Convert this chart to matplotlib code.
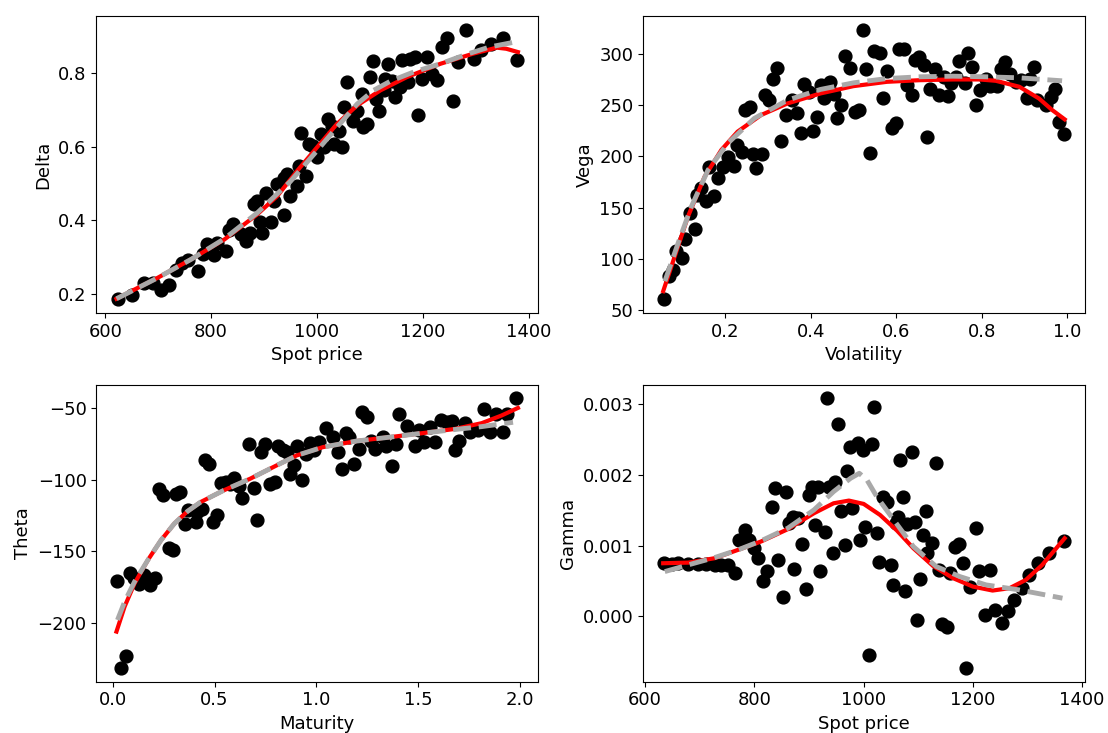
import matplotlib
matplotlib.use('Agg')
import matplotlib.pyplot as plt
import numpy as np

# Delta vs spot
delta_spot = [623, 650, 673, 690, 705, 721, 734, 744, 757, 776, 784, 793, 805, 811, 828, 834, 842, 856, 866, 874,
              881, 886, 893, 897, 903, 913, 919, 924, 937, 938, 944, 950, 963, 966, 969, 979, 985, 993, 1000, 1007,
              1013, 1021, 1029, 1032, 1041, 1048, 1052, 1057, 1068, 1076, 1085, 1088, 1095, 1100, 1106, 1112, 1117,
              1126, 1129, 1135, 1142, 1148, 1157, 1161, 1173, 1176, 1186, 1192, 1198, 1208, 1217, 1227, 1236, 1245,
              1257, 1267, 1282, 1296, 1311, 1330, 1352, 1379]
delta_val = [0.185, 0.196, 0.230, 0.230, 0.212, 0.225, 0.264, 0.285, 0.291, 0.262, 0.309, 0.336, 0.305, 0.339,
             0.316, 0.375, 0.389, 0.364, 0.345, 0.366, 0.445, 0.453, 0.396, 0.366, 0.475, 0.396, 0.453, 0.500,
             0.415, 0.516, 0.525, 0.466, 0.494, 0.548, 0.636, 0.521, 0.607, 0.603, 0.571, 0.635, 0.598, 0.675,
             0.657, 0.607, 0.644, 0.598, 0.707, 0.775, 0.671, 0.698, 0.744, 0.653, 0.662, 0.789, 0.833, 0.730,
             0.696, 0.753, 0.785, 0.825, 0.778, 0.736, 0.762, 0.835, 0.775, 0.839, 0.844, 0.685, 0.785, 0.844,
             0.798, 0.780, 0.871, 0.894, 0.725, 0.830, 0.918, 0.839, 0.864, 0.880, 0.896, 0.835]
delta_fit_x = [621, 655, 699, 762, 825, 887, 925, 963, 1000, 1038, 1076, 1120, 1170, 1233, 1296, 1340, 1358, 1380]
delta_fit_y = [0.187, 0.212, 0.244, 0.294, 0.348, 0.416, 0.466, 0.535, 0.598, 0.662, 0.712, 0.753, 0.789, 0.825,
               0.853, 0.869, 0.866, 0.857]
delta_nn_x = [621, 699, 762, 825, 887, 950, 1000, 1038, 1076, 1107, 1139, 1183, 1233, 1283, 1327, 1377]
delta_nn_y = [0.187, 0.244, 0.294, 0.350, 0.420, 0.506, 0.589, 0.653, 0.716, 0.753, 0.778, 0.803, 0.825, 0.851,
              0.871, 0.885]

# Vega vs volatility
vega_vol = [0.058, 0.068, 0.078, 0.086, 0.098, 0.106, 0.117, 0.129, 0.135, 0.144, 0.156, 0.161, 0.174, 0.183,
            0.195, 0.206, 0.220, 0.228, 0.239, 0.246, 0.257, 0.264, 0.272, 0.285, 0.293, 0.303, 0.311, 0.321,
            0.330, 0.342, 0.357, 0.369, 0.377, 0.384, 0.396, 0.406, 0.415, 0.423, 0.432, 0.445, 0.454, 0.462,
            0.471, 0.481, 0.493, 0.504, 0.514, 0.522, 0.530, 0.539, 0.548, 0.561, 0.570, 0.578, 0.589, 0.600,
            0.607, 0.618, 0.626, 0.636, 0.644, 0.654, 0.665, 0.671, 0.680, 0.690, 0.700, 0.711, 0.721, 0.729,
            0.740, 0.748, 0.760, 0.768, 0.778, 0.787, 0.797, 0.809, 0.819, 0.835, 0.845, 0.855, 0.866, 0.880,
            0.891, 0.905, 0.912, 0.922, 0.930, 0.951, 0.961, 0.971, 0.980, 0.992]
vega_val = [60.7, 83.3, 89.8, 107.6, 101.1, 119.5, 144.8, 129.2, 162.5, 169.0, 156.1, 189.4, 161.6, 178.7, 190.0,
            199.7, 190.7, 211.1, 204.6, 245.0, 247.6, 202.3, 188.4, 202.3, 259.6, 254.7, 275.7, 286.4, 215.3,
            240.2, 254.7, 241.8, 222.4, 270.2, 262.8, 225.0, 237.9, 269.3, 256.3, 272.5, 260.5, 236.9, 249.9,
            297.4, 286.4, 243.4, 245.0, 323.3, 284.5, 203.0, 302.6, 300.6, 256.3, 283.2, 227.2, 232.1, 304.9,
            304.9, 269.3, 259.6, 294.2, 296.8, 288.7, 219.1, 265.4, 285.4, 259.6, 277.4, 258.6, 271.5, 277.4,
            292.9, 271.5, 300.6, 287.1, 249.9, 264.4, 274.8, 268.3, 268.3, 285.4, 291.9, 280.6, 272.5, 274.1,
            256.3, 275.7, 287.1, 254.7, 249.9, 258.0, 265.1, 233.7, 221.7]
vega_fit_x = [0.055, 0.082, 0.113, 0.152, 0.191, 0.229, 0.284, 0.346, 0.423, 0.500, 0.578, 0.655, 0.733, 0.795,
              0.833, 0.888, 0.934, 0.965, 0.994]
vega_fit_y = [68.8, 102.7, 141.5, 180.3, 206.2, 224.0, 240.2, 251.5, 261.2, 268.3, 272.5, 274.1, 274.8, 274.8,
              273.5, 267.7, 256.3, 245.0, 236.0]
vega_nn_x = [0.059, 0.090, 0.121, 0.160, 0.206, 0.268, 0.346, 0.423, 0.500, 0.578, 0.655, 0.733, 0.810, 0.888,
             0.988]
vega_nn_y = [78.5, 115.7, 151.2, 186.8, 212.7, 236.9, 254.7, 265.1, 271.5, 275.7, 277.4, 278.0, 277.4, 276.4,
             273.5]

# Theta vs maturity
theta_mat = [0.023, 0.042, 0.067, 0.083, 0.104, 0.131, 0.153, 0.164, 0.185, 0.208, 0.229, 0.245, 0.278, 0.294,
             0.310, 0.331, 0.354, 0.367, 0.407, 0.416, 0.440, 0.451, 0.472, 0.494, 0.513, 0.532, 0.554, 0.578,
             0.594, 0.619, 0.635, 0.667, 0.692, 0.708, 0.727, 0.748, 0.773, 0.797, 0.813, 0.838, 0.857, 0.870,
             0.890, 0.906, 0.927, 0.948, 0.968, 0.987, 1.013, 1.049, 1.081, 1.106, 1.127, 1.143, 1.162, 1.187,
             1.208, 1.224, 1.247, 1.268, 1.289, 1.325, 1.344, 1.370, 1.390, 1.406, 1.446, 1.484, 1.503, 1.528,
             1.560, 1.584, 1.614, 1.641, 1.666, 1.679, 1.701, 1.731, 1.755, 1.795, 1.825, 1.852, 1.880, 1.917,
             1.938, 1.979]
theta_val = [-170.8, -231.3, -223.1, -164.8, -168.8, -172.7, -166.4, -169.9, -173.4, -168.3, -106.3, -110.9,
             -147.9, -149.1, -109.7, -108.6, -131.0, -121.3, -129.4, -122.5, -120.1, -86.1, -89.4, -129.4,
             -124.8, -102.3, -101.6, -103.2, -98.6, -104.6, -112.5, -75.0, -105.6, -127.8, -80.8, -75.0, -102.8,
             -101.6, -76.2, -79.6, -80.8, -95.8, -90.0, -76.2, -100.0, -82.4, -74.5, -79.6, -73.8, -63.9, -69.9,
             -80.8, -92.4, -67.6, -69.9, -89.4, -78.5, -53.0, -56.5, -72.7, -78.5, -69.9, -76.2, -90.7, -75.0,
             -54.2, -62.3, -76.2, -65.7, -73.8, -63.4, -73.8, -58.3, -60.0, -58.8, -79.6, -72.7, -60.6, -66.9,
             -65.7, -50.7, -66.9, -54.2, -66.9, -54.2, -43.3]
theta_fit_x = [0.018, 0.058, 0.107, 0.172, 0.237, 0.302, 0.367, 0.432, 0.545, 0.675, 0.805, 0.903, 1.032, 1.195,
               1.357, 1.519, 1.682, 1.812, 1.909, 1.990]
theta_fit_y = [-205.8, -188.4, -172.2, -156.0, -142.1, -130.6, -122.0, -115.5, -107.4, -99.3, -90.0, -83.1,
               -77.3, -73.1, -70.4, -67.6, -64.6, -60.6, -55.3, -50.0]
theta_nn_x = [0.023, 0.058, 0.107, 0.172, 0.237, 0.302, 0.367, 0.432, 0.545, 0.675, 0.805, 0.903, 1.032, 1.195,
              1.357, 1.519, 1.682, 1.812, 1.966]
theta_nn_y = [-197.7, -185.0, -171.0, -156.0, -142.1, -130.6, -122.0, -115.5, -107.4, -99.3, -90.0, -83.1,
              -77.3, -73.1, -70.4, -67.6, -65.0, -63.0, -60.0]

# Gamma vs spot (values in 1e-3)
gamma_spot = [635, 649, 661, 679, 697, 712, 727, 739, 752, 764, 771, 782, 791, 800, 807, 815, 823, 832, 838, 844,
              852, 858, 864, 870, 872, 879, 888, 894, 900, 906, 911, 916, 921, 929, 933, 936, 944, 947, 953, 958,
              965, 969, 975, 979, 989, 993, 999, 1003, 1009, 1015, 1019, 1024, 1029, 1036, 1042, 1050, 1053,
              1059, 1062, 1066, 1072, 1076, 1080, 1088, 1094, 1097, 1103, 1109, 1114, 1116, 1126, 1133, 1138,
              1144, 1153, 1158, 1167, 1175, 1181, 1188, 1194, 1205, 1212, 1222, 1232, 1241, 1253, 1264, 1276,
              1290, 1303, 1320, 1339, 1367]
gamma_val = [0.753, 0.744, 0.753, 0.739, 0.739, 0.739, 0.730, 0.730, 0.730, 0.612, 1.083, 1.224, 1.083, 0.965,
             0.824, 0.508, 0.650, 1.545, 1.813, 0.800, 0.273, 1.766, 1.328, 1.413, 0.668, 1.389, 1.026, 0.386,
             1.719, 1.837, 1.295, 1.827, 0.650, 1.201, 3.085, 1.837, 0.904, 1.907, 2.722, 1.497, 1.012, 2.063,
             2.392, 1.530, 2.458, 1.083, 2.355, 1.271, -0.542, 2.439, 2.967, 1.177, 0.777, 1.695, 1.625, 0.730,
             0.447, 1.318, 1.403, 2.213, 1.686, 0.367, 1.309, 2.331, 1.342, -0.048, 0.527, 1.154, 1.497, 0.904,
             1.036, 2.176, 0.659, -0.104, -0.151, 0.621, 0.989, 1.026, 0.753, -0.731, 0.423, 1.248, 0.650,
             0.023, 0.659, 0.094, -0.095, 0.071, 0.235, 0.400, 0.588, 0.753, 0.904, 1.073]
gamma_fit_x = [633, 679, 727, 770, 812, 861, 909, 945, 973, 1000, 1030, 1061, 1091, 1127, 1164, 1200, 1236, 1267,
               1297, 1327, 1368]
gamma_fit_y = [0.753, 0.762, 0.824, 0.942, 1.060, 1.234, 1.460, 1.601, 1.639, 1.592, 1.436, 1.215, 0.965, 0.715,
               0.541, 0.423, 0.367, 0.400, 0.518, 0.730, 1.106]
gamma_nn_x = [636, 679, 727, 770, 812, 861, 909, 945, 976, 992, 1006, 1024, 1055, 1091, 1133, 1176, 1224, 1285,
              1364]
gamma_nn_y = [0.635, 0.730, 0.833, 0.942, 1.069, 1.248, 1.507, 1.766, 1.954, 2.025, 1.931, 1.695, 1.366, 0.989,
              0.706, 0.565, 0.447, 0.376, 0.259]

panels = [
    (delta_spot, delta_val, delta_fit_x, delta_fit_y, delta_nn_x, delta_nn_y, 'Spot price', 'Delta', 1),
    (vega_vol, vega_val, vega_fit_x, vega_fit_y, vega_nn_x, vega_nn_y, 'Volatility', 'Vega', 1),
    (theta_mat, theta_val, theta_fit_x, theta_fit_y, theta_nn_x, theta_nn_y, 'Maturity', 'Theta', 1),
    (gamma_spot, gamma_val, gamma_fit_x, gamma_fit_y, gamma_nn_x, gamma_nn_y, 'Spot price', 'Gamma', 1e-3),
]

plt.rcParams['font.size'] = 13
fig, axes = plt.subplots(2, 2, figsize=(11.08, 7.33), dpi=100)
fig.subplots_adjust(left=0.087, right=0.979, top=0.978, bottom=0.07, wspace=0.238, hspace=0.242)

for ax, (x, y, fx, fy, nx, ny, xl, yl, sc) in zip(axes.flat, panels):
    ax.scatter(x, np.array(y) * sc, s=85, color='black', zorder=2)
    ax.plot(fx, np.array(fy) * sc, color='red', lw=3, zorder=3)
    ax.plot(nx, np.array(ny) * sc, color='darkgray', lw=3.5, ls='--', zorder=4)
    ax.set_xlabel(xl)
    ax.set_ylabel(yl)

axes[1, 1].set_xticks([600, 800, 1000, 1200, 1400])
axes[0, 0].set_xticks([600, 800, 1000, 1200, 1400])

plt.savefig('out.png')
